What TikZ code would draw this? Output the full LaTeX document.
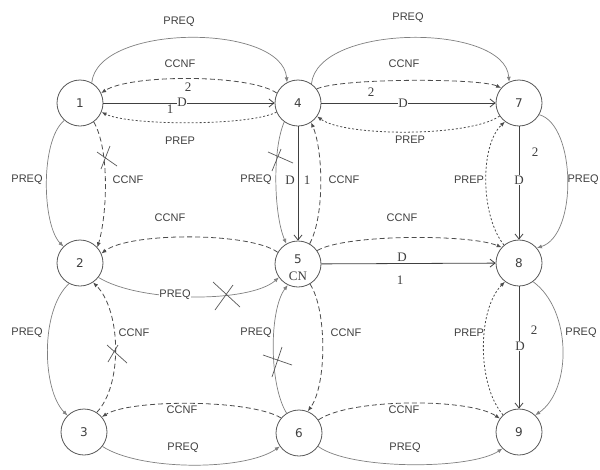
\documentclass[tikz,border=0pt]{standalone}
\usepackage{fontspec}
\setmainfont{Liberation Serif}
\setsansfont{Liberation Sans}
\newfontfamily\numfont{DejaVu Sans}
\usetikzlibrary{arrows.meta}
\begin{document}
\begin{tikzpicture}[x=1pt,y=1pt,
  state/.style={circle, draw=black!65, line width=0.8pt, minimum size=46pt, inner sep=0pt, font=\numfont\fontsize{12}{14}\selectfont, text=black!75},
  stxt/.style={font=\numfont\fontsize{12}{14}\selectfont, text=black!75, inner sep=0pt},
  lab/.style={font=\sffamily\fontsize{11}{13}\selectfont, text=black!75, inner sep=1pt},
  num/.style={font=\rmfamily\fontsize{13}{15}\selectfont, text=black!75, inner sep=1pt},
  onl/.style={fill=white, inner sep=0.5pt},
  tipf/.style={-{Latex[length=5pt,width=4pt]}},
  preq/.style={draw=black!50, line width=0.7pt, tipf},
  ccnf/.style={draw=black!70, line width=0.8pt, dash pattern=on 5pt off 3pt, tipf},
  prep/.style={draw=black!70, line width=0.8pt, dash pattern=on 2pt off 2pt, tipf},
  dlink/.style={draw=black!75, line width=0.8pt, -{Straight Barb[length=5pt,width=8pt]}},
  xcross/.style={draw=black!65, line width=0.7pt},
]
\fill[white] (0,0) rectangle (600,-469);
\useasboundingbox (0,0) rectangle (600,-469);

% nodes
\node[state] (n1) at (80,-103) {1};
\node[state] (n4) at (298,-103) {4};
\node[state] (n7) at (519,-103) {7};
\node[state] (n2) at (80,-263) {2};
\node[state] (n5) at (298,-264) {};
\node[state] (n8) at (519,-263) {8};
\node[state] (n3) at (84,-432) {3};
\node[state] (n6) at (299,-433) {6};
\node[state] (n9) at (519,-432) {9};
\node[stxt] (t5) at ([yshift=5pt]n5.center) {5};
\node[num] (cn) at ([yshift=-12pt]n5.center) {CN};

% row 1
\draw[preq] (n1.60) .. controls (98,-23) and (282,-23) .. (n4.118);
\draw[preq] (n4.55) .. controls (318,-23) and (505,-23) .. (n7.115);
\draw[ccnf] (n4.155) .. controls (250,-74) and (130,-74) .. (n1.25);
\draw[dlink] (n1) -- (n4);
\draw[prep] (n4.203) .. controls (250,-126) and (130,-126) .. (n1.337);
\draw[ccnf] (n4.37) .. controls (340,-78) and (480,-78) .. (n7.140);
\draw[dlink] (n4) -- (n7);
\draw[prep] (n7.214) .. controls (470,-137) and (345,-137) .. (n4.325);

% column 3
\draw[preq] (n7.-30) .. controls (576,-125) and (578,-235) .. (n8.40);
\draw[dlink] (n7) -- (n8);
\draw[prep] (n8.130) .. controls (480,-215) and (480,-145) .. (n7.233);
\draw[prep] (n9.133) .. controls (477,-385) and (477,-310) .. (n8.233);
\draw[dlink] (n8) -- (n9);
\draw[preq] (n8.307) .. controls (572,-310) and (572,-390) .. (n9.46);

% column 1
\draw[preq] (n1.228) .. controls (40,-140) and (42,-225) .. (n2.135);
\draw[ccnf] (n1.306) .. controls (110,-150) and (107,-215) .. (n2.42);
\draw[preq] (n2.242) .. controls (40,-310) and (42,-390) .. (n3.135);
\draw[ccnf] (n3.57) .. controls (123,-385) and (121,-310) .. (n2.304);

% column 2
\draw[preq] (n4.234) .. controls (272,-150) and (274,-215) .. (n5.120);
\draw[dlink] (n4) -- (n5);
\draw[ccnf] (n5.60) .. controls (325,-215) and (323,-150) .. (n4.304);
\draw[preq] (n6.122) .. controls (269,-385) and (269,-310) .. (n5.244);
\draw[ccnf] (n5.301) .. controls (327,-310) and (327,-385) .. (n6.68);

% row 2
\draw[ccnf] (n5.150) .. controls (250,-232) and (130,-232) .. (n2.24);
\draw[preq] (n2.322) .. controls (140,-303) and (250,-303) .. (n5.215);
\draw[ccnf] (n5.35) .. controls (345,-234) and (470,-234) .. (n8.138);
\draw[dlink] (n5) -- (n8);

% row 3
\draw[ccnf] (n6.140) .. controls (250,-399) and (130,-399) .. (n3.40);
\draw[preq] (n3.322) .. controls (140,-471) and (245,-471) .. (n6.215);
\draw[ccnf] (n6.34) .. controls (350,-398) and (470,-398) .. (n9.145);
\draw[preq] (n6.325) .. controls (350,-470) and (470,-470) .. (n9.225);

% crosses
\draw[xcross] (97,-152) -- (117,-166) (110,-146) -- (101,-169);
\draw[xcross] (268,-152) -- (293,-163) (281,-149) -- (272,-171);
\draw[xcross] (213,-282) -- (240,-307) (233,-285) -- (215,-310);
\draw[xcross] (107,-345) -- (127,-363) (118,-345) -- (108,-362);
\draw[xcross] (263,-355) -- (292,-365) (282,-347) -- (272,-377);

% labels row 1
\node[lab] (l1) at (179,-22) {PREQ};
\node[lab] (l2) at (408,-18) {PREQ};
\node[lab] (l3) at (180,-64) {CCNF};
\node[lab] (l4) at (404,-64) {CCNF};
\node[num] (l5) at (188,-87) {2};
\node[num] (l6) at (170,-109) {1};
\node[num,onl] (l7) at (182,-102) {D};
\node[lab] (l8) at (180,-141) {PREP};
\node[lab] (l9) at (410,-140) {PREP};
\node[num] (l10) at (371,-92) {2};
\node[num,onl] (l11) at (403,-103) {D};

% labels middle band
\node[lab] (l12) at (27,-180) {PREQ};
\node[lab] (l13) at (128,-180) {CCNF};
\node[lab] (l14) at (256,-180) {PREQ};
\node[num] (l15) at (290,-180) {D};
\node[num] (l16) at (307,-180) {1};
\node[lab] (l17) at (344,-180) {CCNF};
\node[lab] (l18) at (469,-180) {PREP};
\node[num,onl] (l19) at (519,-180) {D};
\node[num] (l20) at (535,-152) {2};
\node[lab,anchor=east] (l21) at (600,-180) {PREQ};

% labels row 2
\node[lab] (l22) at (170,-218) {CCNF};
\node[lab] (l23) at (402,-218) {CCNF};
\node[lab,onl] (l24) at (175,-295) {PREQ};
\node[num] (l25) at (402,-257) {D};
\node[num] (l26) at (400,-280) {1};

% labels lower band
\node[lab] (l27) at (27,-333) {PREQ};
\node[lab] (l28) at (134,-333) {CCNF};
\node[lab] (l29) at (256,-333) {PREQ};
\node[lab] (l30) at (346,-333) {CCNF};
\node[lab] (l31) at (469,-333) {PREP};
\node[num,onl] (l32) at (520,-346) {D};
\node[num] (l33) at (534,-330) {2};
\node[lab] (l34) at (581,-333) {PREQ};

% labels row 3
\node[lab] (l35) at (182,-410) {CCNF};
\node[lab] (l36) at (183,-448) {PREQ};
\node[lab] (l37) at (404,-410) {CCNF};
\node[lab] (l38) at (405,-448) {PREQ};
\end{tikzpicture}
\end{document}
